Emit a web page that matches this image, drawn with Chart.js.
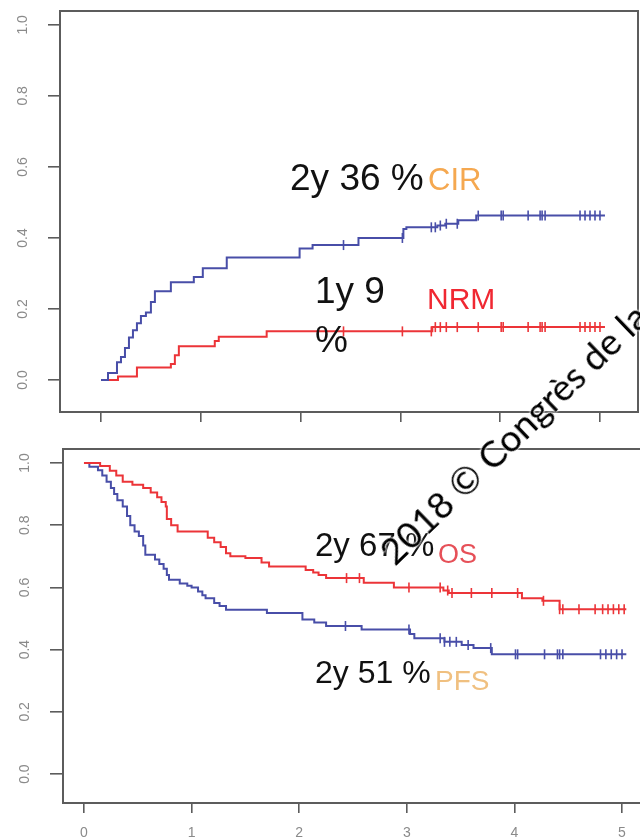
<!DOCTYPE html>
<html>
<head>
<meta charset="utf-8">
<script src="https://cdn.jsdelivr.net/npm/chart.js@4.4.1/dist/chart.umd.min.js"></script>
<style>
  html, body { margin: 0; padding: 0; background: #fff; overflow: hidden; }
  #wrap { position: relative; width: 640px; height: 838px; overflow: hidden; background: #fff; }
  #top { position: absolute; left: 0; top: 0; }
  #bottom { position: absolute; left: 0; top: 440px; }
  #mark {
    position: absolute; left: 395px; top: 534px;
    transform-origin: 0 33px; transform: rotate(-44deg);
    font: 37px Lato, "Open Sans", sans-serif; line-height: 1; white-space: nowrap; color: #000;
    text-shadow: 0 0 2px #fff, 0 0 2px #fff, 0 0 3px #fff;
  }
</style>
</head>
<body>
<div id="wrap">
  <canvas id="top" width="640" height="440"></canvas>
  <canvas id="bottom" width="660" height="398"></canvas>
  <div id="mark">2018 © Congrès de la</div>
</div>
<script>
// tick values
const years = [0, 1, 2, 3, 4, 5];
const probTicks = [0, 0.2, 0.4, 0.6, 0.8, 1.0];

// top panel: cumulative incidence of relapse (CIR) and non-relapse mortality (NRM)
const cirTime  = [0, 0.07, 0.16, 0.20, 0.24, 0.28, 0.32, 0.36, 0.40, 0.45, 0.50, 0.54, 0.70, 0.93, 1.02, 1.26, 1.99, 2.12, 2.58, 3.03, 3.06, 3.37, 3.45, 3.58, 3.76, 5.05];
const cirValue = [0, 0.02, 0.05, 0.065, 0.09, 0.12, 0.14, 0.16, 0.18, 0.19, 0.22, 0.25, 0.275, 0.29, 0.315, 0.345, 0.37, 0.38, 0.40, 0.425, 0.43, 0.435, 0.44, 0.45, 0.463, 0.463];
const nrmTime  = [0, 0.17, 0.36, 0.70, 0.74, 0.78, 1.14, 1.18, 1.66, 3.32, 5.05];
const nrmValue = [0, 0.01, 0.035, 0.045, 0.07, 0.095, 0.11, 0.122, 0.137, 0.149, 0.149];

// bottom panel: overall survival (OS) and progression-free survival (PFS)
const osTime  = [0, 0.15, 0.24, 0.30, 0.36, 0.45, 0.55, 0.62, 0.68, 0.72, 0.76, 0.77, 0.81, 0.87, 1.15, 1.21, 1.27, 1.32, 1.36, 1.50, 1.65, 1.72, 2.06, 2.13, 2.18, 2.25, 2.60, 2.88, 3.34, 3.39, 4.07, 4.26, 4.42, 5.04];
const osValue = [1.0, 0.99, 0.975, 0.96, 0.94, 0.93, 0.92, 0.905, 0.89, 0.875, 0.86, 0.82, 0.80, 0.78, 0.76, 0.745, 0.73, 0.71, 0.70, 0.695, 0.68, 0.667, 0.656, 0.648, 0.64, 0.63, 0.615, 0.60, 0.59, 0.582, 0.565, 0.557, 0.53, 0.53];
const pfsTime  = [0, 0.05, 0.13, 0.17, 0.21, 0.25, 0.28, 0.31, 0.36, 0.40, 0.43, 0.47, 0.51, 0.55, 0.57, 0.66, 0.70, 0.74, 0.77, 0.79, 0.89, 0.96, 1.00, 1.06, 1.10, 1.13, 1.21, 1.26, 1.32, 1.70, 2.03, 2.14, 2.25, 2.58, 3.03, 3.07, 3.35, 3.51, 3.62, 3.79, 5.04];
const pfsValue = [1.0, 0.988, 0.977, 0.96, 0.94, 0.92, 0.90, 0.88, 0.86, 0.83, 0.80, 0.78, 0.765, 0.735, 0.705, 0.69, 0.675, 0.66, 0.64, 0.625, 0.613, 0.605, 0.60, 0.587, 0.575, 0.565, 0.55, 0.54, 0.528, 0.518, 0.497, 0.487, 0.476, 0.465, 0.45, 0.437, 0.425, 0.415, 0.405, 0.385, 0.385];

// censoring times (tick marks)
const censorTime   = [2.43, 3.02, 3.31, 3.35, 3.40, 3.46, 3.57, 3.78, 4.01, 4.03, 4.28, 4.40, 4.42, 4.45, 4.80, 4.85, 4.90, 4.95, 5.00];
const osCensorTime = [2.44, 2.56, 3.02, 3.31, 3.38, 3.42, 3.60, 3.79, 4.03, 4.27, 4.42, 4.45, 4.60, 4.75, 4.82, 4.87, 4.92, 4.97, 5.02];

const BLUE = 'rgb(72, 78, 168)';
const RED = 'rgb(236, 52, 56)';
const AXIS = '#5c5c5c';
const LABEL = '#8a8a8a';

function valueAt(times, vals, t) {
    let v = vals[0];
    for (let i = 0; i < times.length; i++) {
        if (times[i] <= t) v = vals[i];
    }
    return v;
}

function curve(times, vals, color) {
    return {
        data: times.map((t, i) => ({ x: t, y: vals[i] })),
        borderColor: color,
        borderWidth: 2,
        stepped: 'before',
        pointRadius: 0,
        fill: false
    };
}

function censor(times, cTimes, cVals, color) {
    return {
        data: times.map(t => ({ x: t, y: valueAt(cTimes, cVals, t) })),
        showLine: false,
        pointStyle: 'line',
        rotation: 90,
        pointRadius: 5,
        borderColor: color,
        borderWidth: 1.6
    };
}

// box round the plot area, like R's box()
const boxPlugin = {
    id: 'box',
    afterDraw(chart) {
        const a = chart.chartArea, ctx = chart.ctx;
        ctx.save();
        ctx.strokeStyle = AXIS;
        ctx.lineWidth = 2;
        ctx.strokeRect(a.left, a.top, a.right - a.left, a.bottom - a.top);
        ctx.restore();
    }
};

// text placed in data units
const notesPlugin = {
    id: 'notes',
    afterDatasetsDraw(chart, args, opts) {
        const ctx = chart.ctx, sx = chart.scales.x, sy = chart.scales.y;
        ctx.save();
        ctx.textAlign = 'left';
        ctx.textBaseline = 'alphabetic';
        opts.items.forEach(n => {
            ctx.font = n.size + 'px "Liberation Sans", Arial, sans-serif';
            ctx.fillStyle = n.color;
            ctx.fillText(n.text, sx.getPixelForValue(n.x), sy.getPixelForValue(n.y));
        });
        ctx.restore();
    }
};

function scales(xr, yr, yWidth, xHeight, yTickLen, showXLabels) {
    return {
        x: {
            type: 'linear', min: xr[0], max: xr[1],
            afterBuildTicks: s => { s.ticks = years.map(v => ({ value: v })); },
            afterFit: s => { s.height = xHeight; s.paddingLeft = 0; s.paddingRight = 0; },
            border: { display: false },
            grid: { drawOnChartArea: false, drawTicks: true, tickLength: 10, color: AXIS, lineWidth: 1.6 },
            ticks: {
                display: showXLabels, padding: 12, color: LABEL,
                font: { family: '"Liberation Sans", Arial, sans-serif', size: 14 },
                callback: v => String(v), maxRotation: 0
            }
        },
        y: {
            type: 'linear', min: yr[0], max: yr[1],
            afterBuildTicks: s => { s.ticks = probTicks.map(v => ({ value: v })); },
            afterFit: s => { s.width = yWidth; s.paddingTop = 0; s.paddingBottom = 0; },
            border: { display: false },
            grid: { drawOnChartArea: false, drawTicks: true, tickLength: yTickLen, color: AXIS, lineWidth: 1.6 },
            ticks: {
                color: LABEL, padding: 15, crossAlign: 'center',
                minRotation: 90, maxRotation: 90,
                font: { family: '"Liberation Sans", Arial, sans-serif', size: 14 },
                callback: v => v.toFixed(1)
            }
        }
    };
}

function baseOptions(padding, sc, notes) {
    return {
        responsive: false,
        animation: false,
        devicePixelRatio: 1,
        layout: { padding: padding, autoPadding: false },
        plugins: { legend: { display: false }, tooltip: { enabled: false }, notes: { items: notes } },
        scales: sc
    };
}

new Chart(document.getElementById('top').getContext('2d'), {
    type: 'line',
    data: {
        datasets: [
            curve(cirTime, cirValue, BLUE),
            curve(nrmTime, nrmValue, RED),
            censor(censorTime, cirTime, cirValue, BLUE),
            censor(censorTime, nrmTime, nrmValue, RED)
        ]
    },
    options: baseOptions(
        { top: 11, right: 2, left: 0, bottom: 0 },
        scales([-0.411, 5.381], [-0.090, 1.039], 60, 28, 12, false),
        [
            { text: '2y 36 %', x: 1.894, y: 0.535, size: 37, color: '#111' },
            { text: 'CIR', x: 3.277, y: 0.535, size: 31, color: 'rgb(245, 168, 80)' },
            { text: '1y 9', x: 2.144, y: 0.217, size: 37, color: '#111' },
            { text: '%', x: 2.144, y: 0.079, size: 37, color: '#111' },
            { text: 'NRM', x: 3.267, y: 0.200, size: 30, color: 'rgb(240, 40, 50)' }
        ]
    ),
    plugins: [boxPlugin, notesPlugin]
});

new Chart(document.getElementById('bottom').getContext('2d'), {
    type: 'line',
    data: {
        datasets: [
            curve(osTime, osValue, RED),
            curve(pfsTime, pfsValue, BLUE),
            censor(osCensorTime, osTime, osValue, RED),
            censor(censorTime, pfsTime, pfsValue, BLUE)
        ]
    },
    options: baseOptions(
        { top: 9, right: 17, left: 0, bottom: 0 },
        scales([-0.195, 5.195], [-0.093, 1.045], 63, 35, 13, true),
        [
            { text: '2y 67 %', x: 2.147, y: 0.701, size: 33, color: '#111' },
            { text: 'OS', x: 3.290, y: 0.678, size: 27, color: 'rgb(230, 80, 88)' },
            { text: '2y 51 %', x: 2.147, y: 0.293, size: 32, color: '#111' },
            { text: 'PFS', x: 3.262, y: 0.270, size: 28, color: 'rgb(240, 192, 128)' }
        ]
    ),
    plugins: [boxPlugin, notesPlugin]
});
</script>
</body>
</html>
